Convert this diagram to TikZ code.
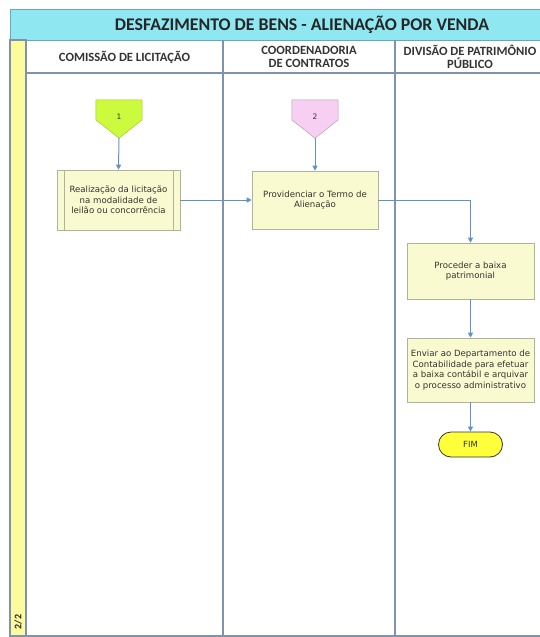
\documentclass[tikz,border=0pt]{standalone}
\usepackage{fontspec}
\setmainfont{Carlito}
\newfontfamily\boxfont{DejaVu Sans}
\usetikzlibrary{arrows.meta,backgrounds,calc}
\definecolor{titlecyan}{HTML}{8FE7F1}
\definecolor{framecol}{HTML}{7F92AE}
\definecolor{stripyel}{HTML}{FCFC9C}
\definecolor{boxfill}{HTML}{FAFAD0}
\definecolor{boxline}{HTML}{B2B29C}
\definecolor{flow}{HTML}{5F93C8}
\definecolor{limeg}{HTML}{CCFA3C}
\definecolor{pinkc}{HTML}{F7CFF3}
\definecolor{fimyel}{HTML}{FFFF3A}
\definecolor{txt}{HTML}{333333}
\tikzset{
  lane/.style={draw=framecol, line width=1.3pt},
  header/.style={font=\bfseries\fontsize{12.6}{13}\selectfont, text=txt, align=center},
  procbox/.style={draw=boxline, fill=boxfill, line width=0.6pt, inner sep=0pt,
    font=\boxfont\fontsize{8.6}{10.6}\selectfont, text=txt, align=center},
  offpage/.style={inner sep=0pt, minimum width=46pt, minimum height=38pt,
    font=\boxfont\fontsize{7.5}{8}\selectfont, text=txt},
  flowarrow/.style={draw=flow, line width=1pt, -{Triangle[length=5pt,width=5pt]}},
  terminal/.style={draw=black!80, fill=fimyel, line width=0.8pt, rounded corners=12.5pt,
    minimum width=64pt, minimum height=25pt, inner sep=0pt,
    font=\boxfont\fontsize{8.5}{9}\selectfont, text=txt}
}
\begin{document}
\begin{tikzpicture}[x=1pt,y=-1pt]
\clip (0,0) rectangle (540,637);
% title
\draw[fill=titlecyan, draw=framecol!80!cyan, line width=1pt] (10,9) rectangle (600,40);
\node[font=\bfseries\fontsize{17.8}{19}\selectfont, text=black!85] (title) at (302,25) {DESFAZIMENTO DE BENS - ALIENAÇÃO POR VENDA};
% strip
\draw[fill=stripyel, lane] (10,40) rectangle (26,636);
\node[rotate=90, font=\bfseries\fontsize{10}{11}\selectfont, text=black!85] (pg) at (18,622) {2/2};
% lanes
\draw[lane] (26,73) -- (600,73);
\draw[lane] (223,40) -- (223,636);
\draw[lane] (395,40) -- (395,636);
\draw[lane] (26,636) -- (600,636);
% headers
\node[header] (h1) at (124.5,57) {COMISSÃO DE LICITAÇÃO};
\node[header] (h2) at (309,57) {COORDENADORIA\\DE CONTRATOS};
\node[header] (h3) at (470,57) {DIVISÃO DE PATRIMÔNIO\\PÚBLICO};
% off-page connectors
\node[offpage] (c1) at (119,119) {\raisebox{5pt}{1}};
\node[offpage] (c2) at (315,119) {\raisebox{5pt}{2}};
\begin{scope}[on background layer]
\filldraw[fill=limeg, draw=limeg!80!black, line width=0.5pt] (c1.north west) -- (c1.north east) -- ([yshift=-20pt]c1.north east) -- (c1.south) -- ([yshift=-20pt]c1.north west) -- cycle;
\filldraw[fill=pinkc, draw=pinkc!75!black, line width=0.5pt] (c2.north west) -- (c2.north east) -- ([yshift=-20pt]c2.north east) -- (c2.south) -- ([yshift=-20pt]c2.north west) -- cycle;
\end{scope}
% process boxes
\node[procbox, minimum width=123pt, minimum height=60pt] (b1) at (118.5,200) {Realização da licitação\\na modalidade de\\leilão ou concorrência};
\draw[boxline, line width=0.6pt] ([xshift=8pt]b1.north west) -- ([xshift=8pt]b1.south west);
\draw[boxline, line width=0.6pt] ([xshift=-7pt]b1.north east) -- ([xshift=-7pt]b1.south east);
\node[procbox, minimum width=126pt, minimum height=58pt] (b2) at (315,200) {Providenciar o Termo de\\Alienação};
\node[procbox, minimum width=127pt, minimum height=56pt] (b3) at (470.5,271) {Proceder a baixa\\patrimonial};
\node[procbox, minimum width=127pt, minimum height=64pt] (b4) at (470.5,370) {Enviar ao Departamento de\\Contabilidade para efetuar\\a baixa contábil e arquivar\\o processo administrativo};
\node[terminal] (fim) at (470.5,444.5) {FIM};
% connectors
\draw[flowarrow] (c1.south) -- (b1.north);
\draw[flowarrow] (c2.south) -- (b2.north);
\draw[flowarrow] (b1.east) -- (b2.west);
\draw[flowarrow] (b2.east) -| (b3.north);
\draw[flowarrow] (b3.south) -- (b4.north);
\draw[flowarrow] (b4.south) -- (fim.north);
\end{tikzpicture}
\end{document}
